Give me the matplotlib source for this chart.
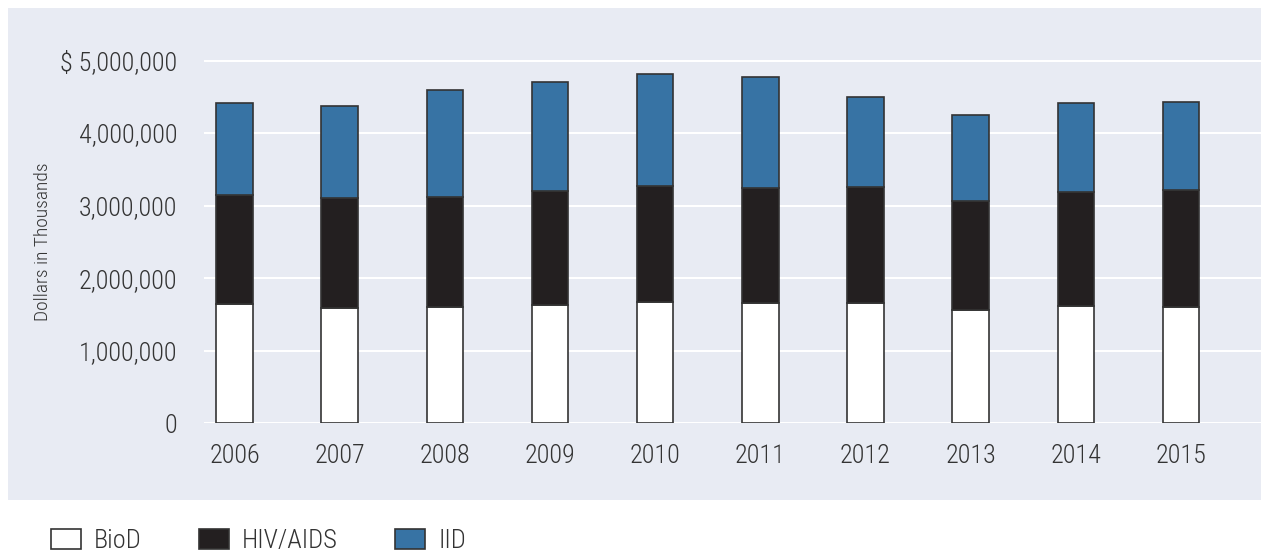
import matplotlib

matplotlib.use("Agg")
import matplotlib.pyplot as plt  # noqa: E402
from matplotlib.patches import Rectangle  # noqa: E402

years = ["2006", "2007", "2008", "2009", "2010", "2011", "2012", "2013", "2014", "2015"]
# dollars in thousands
biod = [1644000, 1593000, 1599000, 1635000, 1672000, 1658000, 1658000, 1566000, 1613000, 1603000]
hiv_aids = [1503000, 1512000, 1520000, 1563000, 1603000, 1581000, 1595000, 1502000, 1579000, 1613000]
iid = [1272000, 1264000, 1471000, 1506000, 1544000, 1538000, 1240000, 1177000, 1219000, 1209000]
y_ticks = [0, 1000000, 2000000, 3000000, 4000000, 5000000]
y_tick_labels = ["0", "1,000,000", "2,000,000", "3,000,000", "4,000,000", "$ 5,000,000"]

PANEL = "#e8ebf3"
TEXT = "#333333"
EDGE = "#333333"

plt.rcParams["font.family"] = ["Roboto Condensed", "DejaVu Sans Condensed",
                               "Liberation Sans Narrow", "Roboto"]

fig = plt.figure(figsize=(12.61, 5.54), dpi=100)
fig.patches.append(
    Rectangle((8 / 1261, 54 / 554), 1253 / 1261, 492 / 554,
              transform=fig.transFigure, facecolor=PANEL, edgecolor="none", zorder=-5)
)
ax = fig.add_axes([204 / 1261, 130.7 / 554, 1057 / 1261, 377.3 / 554])
ax.set_facecolor("none")

x = list(range(len(years)))
width = 0.347
bottom2 = [a + b for a, b in zip(biod, hiv_aids)]
b1 = ax.bar(x, biod, width, color="white", edgecolor=EDGE, linewidth=1.2, label="BioD", zorder=3)
b2 = ax.bar(x, hiv_aids, width, bottom=biod, color="#231f20", edgecolor=EDGE,
            linewidth=1.2, label="HIV/AIDS", zorder=3)
b3 = ax.bar(x, iid, width, bottom=bottom2, color="#3773a4", edgecolor=EDGE,
            linewidth=1.2, label="IID", zorder=3)

ax.set_xlim(-0.29, 9.76)
ax.set_ylim(0, 5200000)
ax.set_yticks(y_ticks)
ax.set_yticklabels(y_tick_labels)
ax.set_xticks(x)
ax.set_xticklabels(years)
ax.tick_params(axis="y", length=0, pad=19, labelsize=18.8, labelcolor=TEXT)
ax.tick_params(axis="x", length=0, pad=15, labelsize=18.8, labelcolor=TEXT)
for lab in ax.get_xticklabels() + ax.get_yticklabels():
    lab.set_fontweight("light")
ax.grid(axis="y", color="white", linewidth=1.5, zorder=1)
ax.set_axisbelow(True)
for spine in ax.spines.values():
    spine.set_visible(False)

fig.text(43 / 1261, 1 - 242 / 554, "Dollars in Thousands", rotation=90, ha="center",
         va="center", fontsize=14, color=TEXT, fontweight="light")

leg = fig.legend(handles=[b1, b2, b3], loc="center left",
                 bbox_to_anchor=(40 / 1261, 1 - 541 / 554),
                 ncol=3, frameon=False, fontsize=19, handlelength=1.15, handleheight=0.8,
                 handletextpad=0.5, columnspacing=2.15, labelcolor=TEXT, borderaxespad=0)
for t in leg.get_texts():
    t.set_fontweight("light")

fig.savefig("out.png", dpi=100)
plt.close(fig)
